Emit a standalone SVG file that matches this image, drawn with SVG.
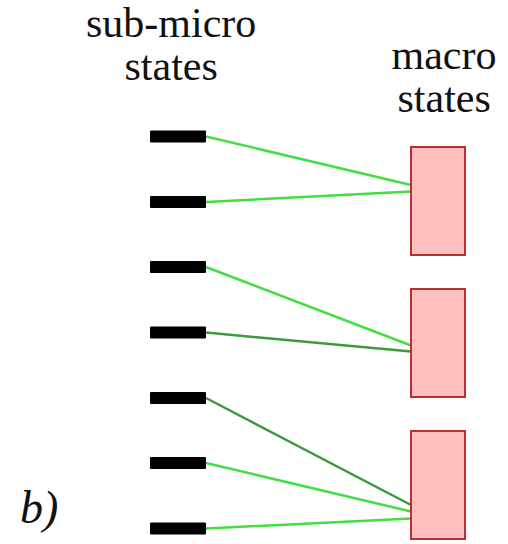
<svg xmlns="http://www.w3.org/2000/svg" width="508" height="544" viewBox="0 0 508 544">
<text x="86" y="37" font-family="Times New Roman" font-size="42" fill="#111">sub-micro</text>
<text x="124.5" y="80" font-family="Times New Roman" font-size="42" fill="#111">states</text>
<text x="391.5" y="69" font-family="Times New Roman" font-size="42" fill="#111">macro</text>
<text x="397.5" y="112" font-family="Times New Roman" font-size="42" fill="#111">states</text>
<text x="20" y="523" font-family="Times New Roman" font-size="46" font-style="italic" fill="#111">b)</text>
<g id="connectors" stroke-width="2.5" fill="none">
<line stroke="#44dd44" x1="206" y1="136.5" x2="411" y2="185"/>
<line stroke="#44dd44" x1="206" y1="202" x2="411" y2="191.5"/>
<line stroke="#44dd44" x1="206" y1="267" x2="411" y2="345.5"/>
<line stroke="#3d993d" x1="206" y1="332.5" x2="411" y2="351.5"/>
<line stroke="#3d993d" x1="206" y1="398" x2="411" y2="505"/>
<line stroke="#44dd44" x1="206" y1="463" x2="411" y2="511.5"/>
<line stroke="#44dd44" x1="206" y1="528.5" x2="411" y2="518.5"/>
</g>
<g id="micro-states" fill="#000">
<g id="micro1"><rect x="150" y="130.5" width="56" height="12" rx="1"/></g>
<g id="micro2"><rect x="150" y="196" width="56" height="12" rx="1"/></g>
<g id="micro3"><rect x="150" y="261" width="56" height="12" rx="1"/></g>
<g id="micro4"><rect x="150" y="326.5" width="56" height="12" rx="1"/></g>
<g id="micro5"><rect x="150" y="392" width="56" height="12" rx="1"/></g>
<g id="micro6"><rect x="150" y="457" width="56" height="12" rx="1"/></g>
<g id="micro7"><rect x="150" y="522.5" width="56" height="12" rx="1"/></g>
</g>
<g id="macro-states" fill="#ffbfbf" stroke="#b83030" stroke-width="2">
<g id="macro1"><rect x="411" y="147" width="54" height="108"/></g>
<g id="macro2"><rect x="411" y="289" width="54" height="108"/></g>
<g id="macro3"><rect x="411" y="431" width="54" height="108"/></g>
</g>
</svg>
